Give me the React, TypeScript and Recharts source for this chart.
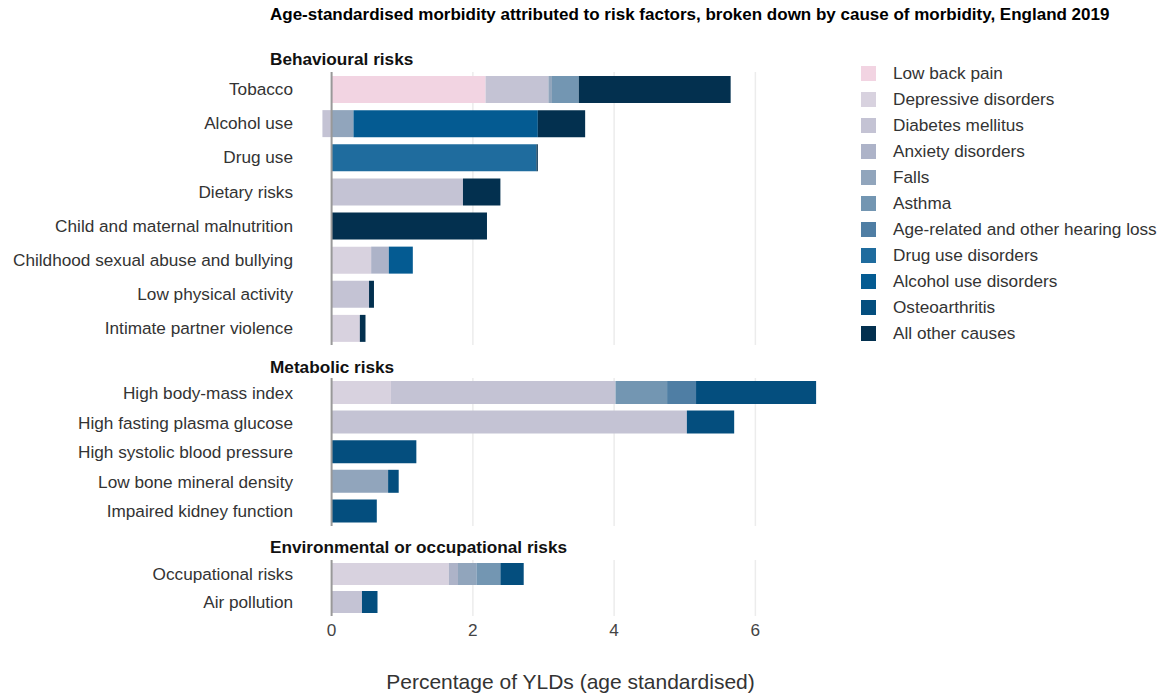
import React from 'react';
import { BarChart, Bar, XAxis, YAxis, CartesianGrid, ReferenceLine } from 'recharts';

const title = 'Age-standardised morbidity attributed to risk factors, broken down by cause of morbidity, England 2019';
const axisTitle = 'Percentage of YLDs (age standardised)';

const riskFactors = [
    'Tobacco', 'Alcohol use', 'Drug use', 'Dietary risks', 'Child and maternal malnutrition',
    'Childhood sexual abuse and bullying', 'Low physical activity', 'Intimate partner violence',
    'High body-mass index', 'High fasting plasma glucose', 'High systolic blood pressure',
    'Low bone mineral density', 'Impaired kidney function',
    'Occupational risks', 'Air pollution',
];

const groupNames = ['Behavioural risks', 'Metabolic risks', 'Environmental or occupational risks'];
const groupSizes = [8, 5, 2];

const causes = [
    'Low back pain', 'Depressive disorders', 'Diabetes mellitus', 'Anxiety disorders', 'Falls', 'Asthma',
    'Age-related and other hearing loss', 'Drug use disorders', 'Alcohol use disorders', 'Osteoarthritis',
    'All other causes',
];
const causeColors = [
    '#f2d4e2', '#d8d2df', '#c4c3d4', '#adb3c8', '#91a5bc', '#7396b2',
    '#4f7ea4', '#1f6c9e', '#045b92', '#044e7e', '#03304f',
];

// one array per cause, in riskFactors order
const lowBackPain = [2.18, 0, 0, 0, 0, 0, 0, 0, 0, 0, 0, 0, 0, 0, 0];
const depressive = [0, 0, 0, 0, 0, 0.56, 0, 0.4, 0.84, 0, 0, 0, 0, 1.66, 0];
const diabetes = [0.89, -0.13, 0, 1.86, 0, 0, 0.53, 0, 3.18, 5.03, 0, 0, 0, 0, 0.43];
const anxiety = [0, 0, 0, 0, 0, 0.25, 0, 0, 0, 0, 0, 0, 0, 0.13, 0];
const falls = [0.05, 0.31, 0, 0, 0, 0, 0, 0, 0, 0, 0, 0.8, 0, 0.26, 0];
const asthma = [0.38, 0, 0, 0, 0, 0, 0, 0, 0.73, 0, 0, 0, 0, 0.34, 0];
const hearingLoss = [0, 0, 0, 0, 0, 0, 0, 0, 0.41, 0, 0, 0, 0, 0, 0];
const drugUse = [0, 0, 2.9, 0, 0, 0, 0, 0, 0, 0, 0, 0, 0, 0, 0];
const alcoholUse = [0, 2.61, 0, 0, 0, 0.34, 0, 0, 0, 0, 0, 0, 0, 0, 0];
const osteoarthritis = [0, 0, 0, 0, 0, 0, 0, 0, 1.7, 0.67, 1.2, 0.15, 0.64, 0.33, 0.22];
const allOther = [2.15, 0.67, 0.02, 0.53, 2.2, 0, 0.07, 0.08, 0, 0, 0, 0, 0, 0, 0];

const causeValues = [lowBackPain, depressive, diabetes, anxiety, falls, asthma, hearingLoss, drugUse, alcoholUse, osteoarthritis, allOther];

const xTicks = [0, 2, 4, 6];

const rows = riskFactors.map((name, i) => {
    const row: any = { name };
    causes.forEach((c, k) => { row[c] = causeValues[k][i]; });
    return row;
});

// panel placement (page px)
const panels = [
    { top: 72, height: 273, barSize: 27, headerTop: 49 },
    { top: 378, height: 148, barSize: 23, headerTop: 357 },
    { top: 560, height: 56, barSize: 22, headerTop: 537 },
];

const font = '"Liberation Sans", Arial, sans-serif';
const fs = 17.2;

const gridX = (props: any) => {
    const scale = props.xAxis?.scale;
    if (!scale) return [];
    const f = typeof scale === 'function' ? scale : scale.map?.bind(scale);
    return xTicks.filter(t => t !== 0).map(t => f(t));
};

function Panel({ data, top, height, barSize, last }: any) {
    const axisH = last ? 34 : 1;
    return (
        <div style={{ position: 'absolute', left: 0, top }}>
            <BarChart
                width={826}
                height={height + axisH}
                data={data}
                layout="vertical"
                stackOffset="sign"
                margin={{ top: 0, right: 0, bottom: 0, left: 0 }}
            >
                <CartesianGrid horizontal={false} stroke="#ececec" strokeWidth={1.5} verticalCoordinatesGenerator={gridX} />
                <XAxis
                    type="number"
                    domain={[-0.15, 7]}
                    ticks={xTicks}
                    height={axisH}
                    axisLine={false}
                    tickLine={false}
                    tickSize={0}
                    tickMargin={8}
                    tick={last ? { fill: '#444', fontSize: fs, fontFamily: font } : false}
                />
                <YAxis
                    type="category"
                    dataKey="name"
                    width={321}
                    axisLine={false}
                    tickLine={false}
                    tickSize={0}
                    tickMargin={28}
                    interval={0}
                    tick={{ fill: '#333', fontSize: fs, fontFamily: font }}
                />
                {causes.map((c, k) => (
                    <Bar key={c} dataKey={c} stackId="a" fill={causeColors[k]} barSize={barSize} isAnimationActive={false} />
                ))}
                <ReferenceLine x={0} stroke="#999" strokeWidth={2} />
            </BarChart>
        </div>
    );
}

export default function App() {
    let start = 0;
    return (
        <div style={{ position: 'absolute', left: 0, top: 0, width: 1159, height: 696, background: '#fff', fontFamily: font }}>
            <div style={{ position: 'absolute', left: 270, top: 5, fontSize: 17, fontWeight: 'bold', color: '#000', whiteSpace: 'nowrap' }}>
                {title}
            </div>
            {panels.map((p, g) => {
                const data = rows.slice(start, start + groupSizes[g]);
                start += groupSizes[g];
                return (
                    <React.Fragment key={g}>
                        <div style={{ position: 'absolute', left: 270, top: p.headerTop, fontSize: fs, fontWeight: 'bold', color: '#111', whiteSpace: 'nowrap' }}>
                            {groupNames[g]}
                        </div>
                        <Panel data={data} top={p.top} height={p.height} barSize={p.barSize} last={g === panels.length - 1} />
                    </React.Fragment>
                );
            })}
            <div style={{ position: 'absolute', left: 331, width: 479, textAlign: 'center', top: 670, fontSize: 21, color: '#333', whiteSpace: 'nowrap' }}>
                {axisTitle}
            </div>
            {causes.map((c, k) => (
                <div key={c} style={{ position: 'absolute', left: 861, top: 64 + k * 26, height: 18, display: 'flex', alignItems: 'center', whiteSpace: 'nowrap' }}>
                    <div style={{ width: 15, height: 15, background: causeColors[k] }} />
                    <span style={{ marginLeft: 17, fontSize: fs, color: '#333' }}>{c}</span>
                </div>
            ))}
        </div>
    );
}
